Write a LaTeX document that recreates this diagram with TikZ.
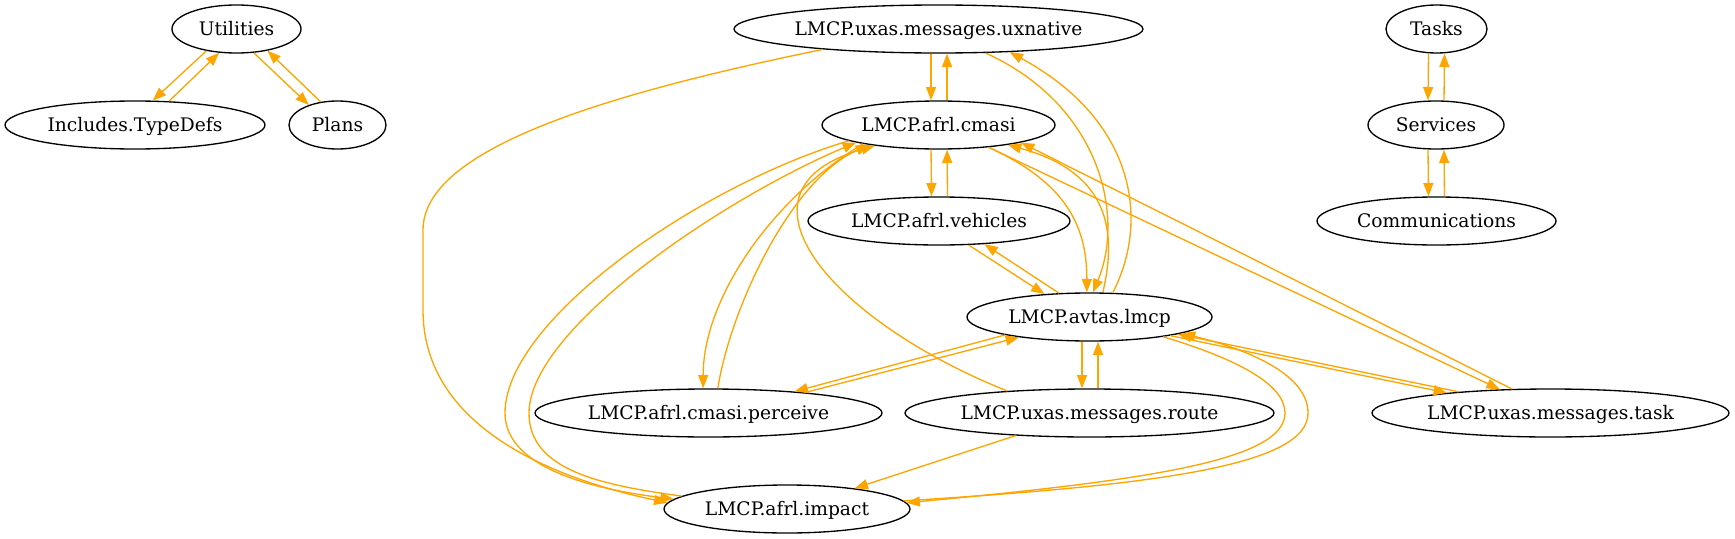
\documentclass[tikz,border=0pt]{standalone}
\usepackage{fontspec}
\setmainfont{DejaVu Serif}
\usetikzlibrary{shapes.geometric,arrows.meta,calc}
\definecolor{gvorange}{HTML}{FFA500}
\begin{document}
\begin{tikzpicture}[x=0.75pt,y=-0.75pt,
  nd/.style={ellipse,draw=black,line width=1pt,inner sep=0pt,minimum height=36pt,
    minimum width=#1*0.75pt,font=\fontsize{14pt}{16pt}\selectfont,
    text height=10.2pt,text depth=0pt},
  ed/.style={draw=gvorange,line width=1pt,-{Triangle[length=10pt,width=7.5pt]}}]
\fill[white] (0,0) rectangle (1735,539);
\useasboundingbox (0,0) rectangle (1735,539);
% nodes
\node[nd=129] (U)   at (236.5,29) {\makebox[0pt]{Utilities}};
\node[nd=260] (ITD) at (135,125)  {\makebox[0pt]{Includes.TypeDefs}};
\node[nd=97]  (PL)  at (337.5,125){\makebox[0pt]{Plans}};
\node[nd=409] (UX)  at (938.5,29) {\makebox[0pt]{LMCP.uxas.messages.uxnative}};
\node[nd=233] (CM)  at (938.5,125){\makebox[0pt]{LMCP.afrl.cmasi}};
\node[nd=262] (VE)  at (939,221)  {\makebox[0pt]{LMCP.afrl.vehicles}};
\node[nd=245] (LM)  at (1089.5,317){\makebox[0pt]{LMCP.avtas.lmcp}};
\node[nd=347] (PE)  at (708.5,413){\makebox[0pt]{LMCP.afrl.cmasi.perceive}};
\node[nd=369] (RO)  at (1089.5,413){\makebox[0pt]{LMCP.uxas.messages.route}};
\node[nd=357] (TA)  at (1550.5,413){\makebox[0pt]{LMCP.uxas.messages.task}};
\node[nd=246] (IM)  at (787,509)  {\makebox[0pt]{LMCP.afrl.impact}};
\node[nd=101] (TK)  at (1436.5,29){\makebox[0pt]{Tasks}};
\node[nd=136] (SV)  at (1436,125) {\makebox[0pt]{Services}};
\node[nd=239] (CO)  at (1436.5,221){\makebox[0pt]{Communications}};
% left cluster
\draw[ed] (U.216) -- (ITD.54);
\draw[ed] (ITD.35) -- (U.234);
\draw[ed] (U.306) -- (PL.145);
\draw[ed] (PL.126) -- (U.325);
% right cluster
\draw[ed] ([xshift=-6pt]TK.south) -- ([xshift=-6pt]SV.north);
\draw[ed] ([xshift=6pt]SV.north) -- ([xshift=6pt]TK.south);
\draw[ed] ([xshift=-6pt]SV.south) -- ([xshift=-6pt]CO.north);
\draw[ed] ([xshift=6pt]CO.north) -- ([xshift=6pt]SV.south);
% vertical pairs
\draw[ed] ([xshift=-5.6pt]UX.south) -- ([xshift=-5.6pt]CM.north);
\draw[ed] ([xshift=6.4pt]CM.north) -- ([xshift=6.4pt]UX.south);
\draw[ed] ([xshift=-5.6pt]CM.south) -- ([xshift=-5.6pt]VE.north);
\draw[ed] ([xshift=6.4pt]VE.north) -- ([xshift=6.4pt]CM.south);
\draw[ed] ([xshift=-5.6pt]LM.south) -- ([xshift=-5.6pt]RO.north);
\draw[ed] ([xshift=6.4pt]RO.north) -- ([xshift=6.4pt]LM.south);
% vehicles <-> lmcp
\draw[ed] (VE.321) -- (LM.153);
\draw[ed] (LM.142) -- (VE.333);
% uxnative -> impact
\draw[ed] (UX.190) .. controls (600,95) and (423,150) .. (423,230) -- (423,310)
  .. controls (423,430) and (560,480) .. (IM.177);
% cmasi <-> impact
\draw[ed] (CM.190) .. controls (700,185) and (505,320) .. (505,413)
  .. controls (505,470) and (600,490) .. (IM.175);
\draw[ed] (IM.173) .. controls (600,485) and (529,470) .. (529,413)
  .. controls (529,330) and (720,200) .. (CM.192);
% cmasi <-> perceive
\draw[ed] (CM.194) .. controls (770,200) and (703,300) .. ([xshift=-4pt]PE.north);
\draw[ed] ([xshift=7pt]PE.north) .. controls (730,310) and (790,180) .. (CM.196);
% route -> cmasi
\draw[ed] (RO.165) .. controls (830,320) and (720,190) .. (CM.198);
% cmasi <-> lmcp
\draw[ed] (CM.336) .. controls (1060,180) and (1087,220) .. ([xshift=-2pt]LM.north);
\draw[ed] ([xshift=10pt]LM.north) .. controls (1120,220) and (1100,170) .. (CM.344);
% uxnative <-> lmcp
\draw[ed] (UX.333) .. controls (1100,105) and (1125,215) .. ([xshift=2.6pt]LM.north);
\draw[ed] ([xshift=17.6pt]LM.north) .. controls (1150,220) and (1135,120) .. (UX.342);
% cmasi <-> task
\draw[ed] (CM.336) -- (TA.155);
\draw[ed] (TA.148) -- (CM.348);
% lmcp <-> perceive
\draw[ed] (LM.192) -- (PE.14);
\draw[ed] (PE.12) -- (LM.196);
% route -> impact
\draw[ed] (RO.197) -- (IM.17);
% lmcp <-> impact
\draw[ed] (LM.345) .. controls (1240,360) and (1285,385) .. (1285,413)
  .. controls (1285,460) and (1150,480) .. (IM.3);
\draw[ed] (IM.4) .. controls (1160,485) and (1308,465) .. (1308,413)
  .. controls (1308,375) and (1250,350) .. (LM.350);
% lmcp <-> task
\draw[ed] (LM.347) -- (TA.169);
\draw[ed] (TA.167) -- (LM.349);
\end{tikzpicture}
\end{document}
